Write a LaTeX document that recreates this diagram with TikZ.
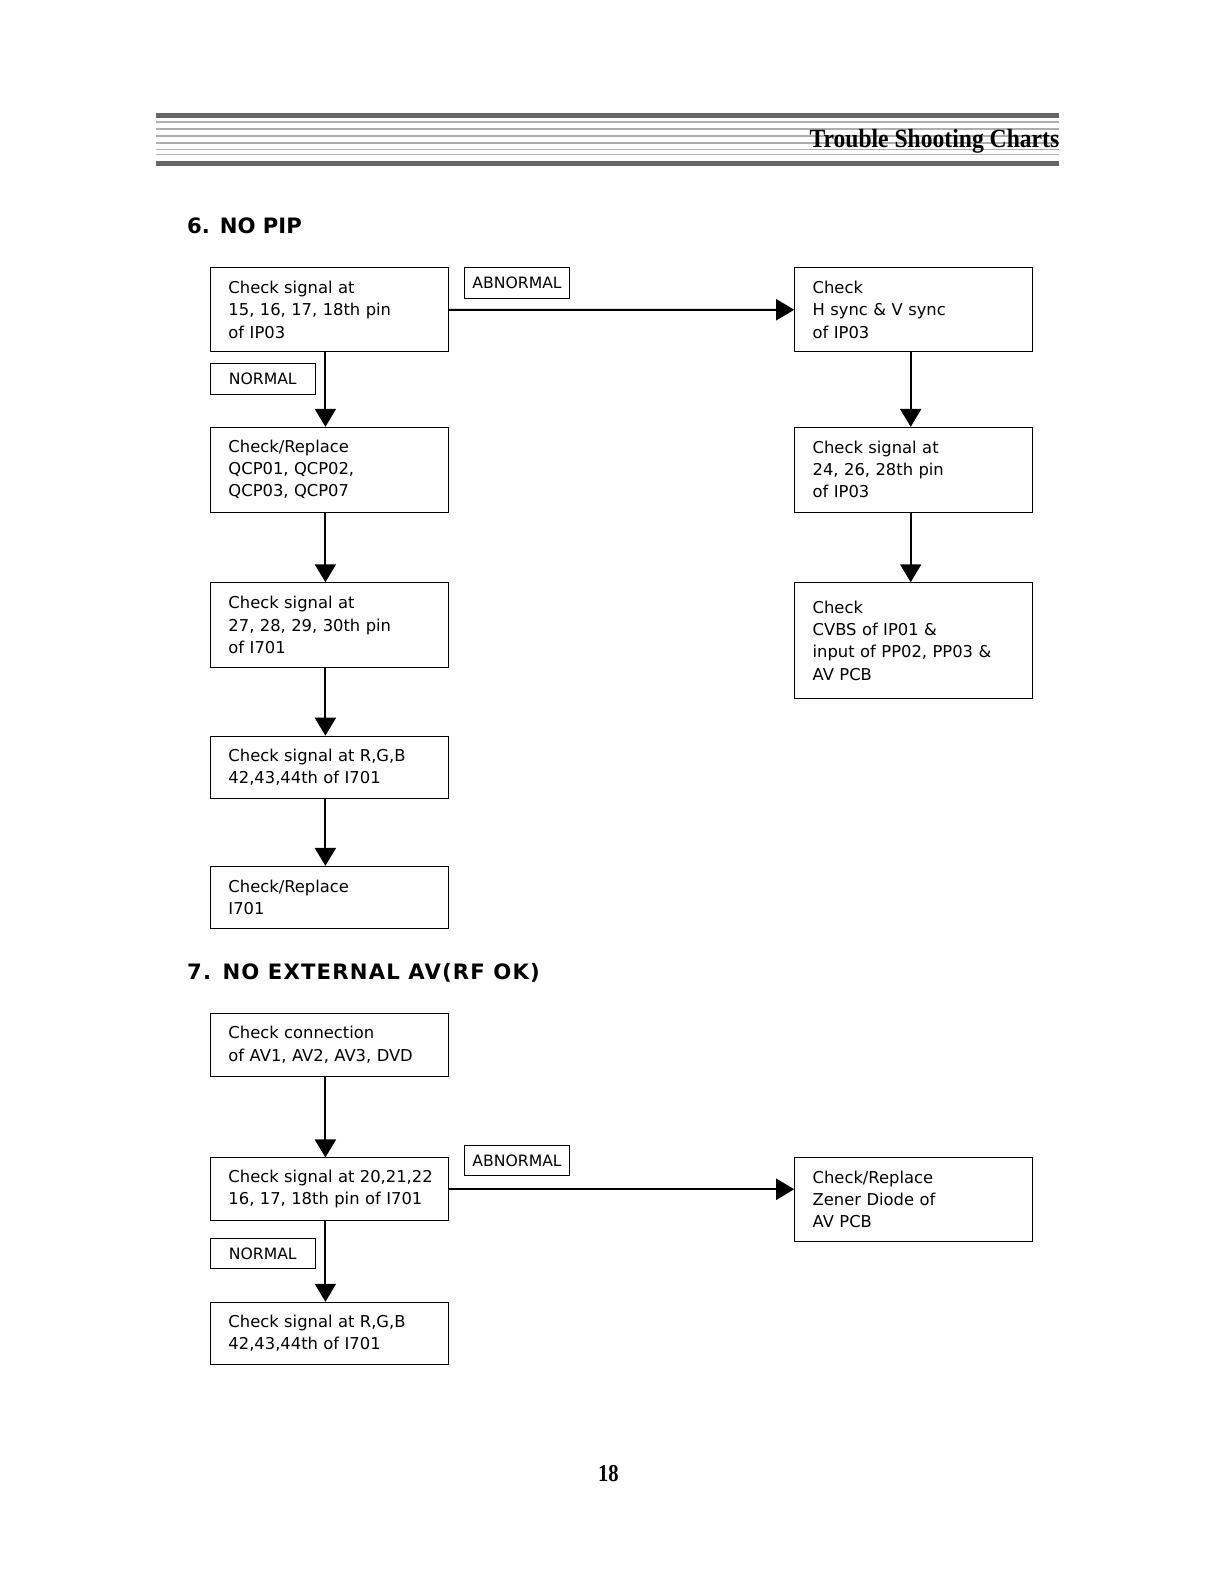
\documentclass[tikz,border=0pt]{standalone}
\usepackage{fontspec}
\usepackage{graphicx}
\setmainfont{DejaVu Sans}
\newfontfamily\headfont{Liberation Serif}
\usetikzlibrary{arrows.meta}

\tikzset{
    box/.style={draw, line width=0.9pt, anchor=north west, inner xsep=4pt, inner ysep=0pt,
        text width=228pt, align=left, execute at begin node={\leftskip=14pt\relax},
        font=\fontsize{16.2}{22}\selectfont},
    lbl/.style={draw, line width=0.9pt, anchor=north west, minimum width=104pt,
        minimum height=30pt, inner sep=0pt, font=\fontsize{15.5}{18}\selectfont},
    arr/.style={-{Triangle[length=18pt, width=21pt]}, line width=2pt},
    sect/.style={anchor=base west, font=\fontsize{21}{26}\selectfont\bfseries},
}

\begin{document}
\begin{tikzpicture}[x=1pt, y=-1pt, scale=1.009, every node/.append style={transform shape}]
    \useasboundingbox (0,0) rectangle (1209.1,1568.9);
    % header bars
    \fill[black!60] (155,112) rectangle (1050,117);
    \fill[black!60] (155,160) rectangle (1050,165);
    \foreach \y in {121,128,135,142,148,153} {
        \draw[black!32, line width=1.6pt] (155,\y) -- (1050,\y);
    }
    \node[anchor=base east, inner sep=0pt, font=\headfont\fontsize{26}{30}\selectfont\bfseries] (head) at (1050,146)
        {\scalebox{0.9}[1]{Trouble Shooting Charts}};

    % 6. NO PIP
    \node[sect] (t6) at (182,231) {6. NO PIP};
    \node[box, minimum height=83pt] (sig1) at (208,265) {Check signal at\\15, 16, 17, 18th pin\\of IP03};
    \node[box, minimum height=84pt] (qcp) at (208,423) {Check/Replace\\QCP01, QCP02,\\QCP03, QCP07};
    \node[box, minimum height=84pt] (sig2) at (208,577) {Check signal at\\27, 28, 29, 30th pin\\of I701};
    \node[box, minimum height=62pt] (rgb1) at (208,729) {Check signal at R,G,B\\42,43,44th of I701};
    \node[box, minimum height=62pt] (rep1) at (208,858) {Check/Replace\\I701};
    \node[box, minimum height=83pt] (hv) at (787,265) {Check\\H sync \& V sync\\of IP03};
    \node[box, minimum height=84pt] (sig3) at (787,423) {Check signal at\\24, 26, 28th pin\\of IP03};
    \node[box, minimum height=115pt] (cvbs) at (787,577) {Check\\CVBS of IP01 \&\\input of PP02, PP03 \&\\AV PCB};
    \node[lbl] (nor1) at (208,360) {NORMAL};
    \node[lbl] (abn1) at (460,265) {ABNORMAL};

    \draw[arr] (sig1) -- (hv);
    \draw[arr] ([xshift=-4pt]sig1.south) -- ([xshift=-4pt]qcp.north);
    \draw[arr] ([xshift=-4pt]qcp.south) -- ([xshift=-4pt]sig2.north);
    \draw[arr] ([xshift=-4pt]sig2.south) -- ([xshift=-4pt]rgb1.north);
    \draw[arr] ([xshift=-4pt]rgb1.south) -- ([xshift=-4pt]rep1.north);
    \draw[arr] ([xshift=-3pt]hv.south) -- ([xshift=-3pt]sig3.north);
    \draw[arr] ([xshift=-3pt]sig3.south) -- ([xshift=-3pt]cvbs.north);

    % 7. NO EXTERNAL AV
    \node[sect] (t7) at (182,971) {\addfontfeature{LetterSpace=5.5}7. NO EXTERNAL AV(RF OK)};
    \node[box, minimum height=62pt] (conn) at (208,1004) {Check connection\\of AV1, AV2, AV3, DVD};
    \node[box, minimum height=62pt] (sig4) at (208,1147) {Check signal at 20,21,22\\16, 17, 18th pin of I701};
    \node[box, minimum height=62pt] (rgb2) at (208,1290) {Check signal at R,G,B\\42,43,44th of I701};
    \node[box, minimum height=83pt] (zen) at (787,1147) {Check/Replace\\Zener Diode of\\AV PCB};
    \node[lbl] (nor2) at (208,1227) {NORMAL};
    \node[lbl] (abn2) at (460,1135) {ABNORMAL};

    \draw[arr] ([xshift=-4pt]conn.south) -- ([xshift=-4pt]sig4.north);
    \draw[arr] ([xshift=-4pt]sig4.south) -- ([xshift=-4pt]rgb2.north);
    \draw[arr] (sig4.east) -- (sig4.east -| zen.west);

    % page number
    \node[anchor=base, inner sep=0pt, font=\headfont\fontsize{24}{28}\selectfont\bfseries] (page) at (603,1468)
        {\scalebox{0.85}[1]{18}};
\end{tikzpicture}
\end{document}
